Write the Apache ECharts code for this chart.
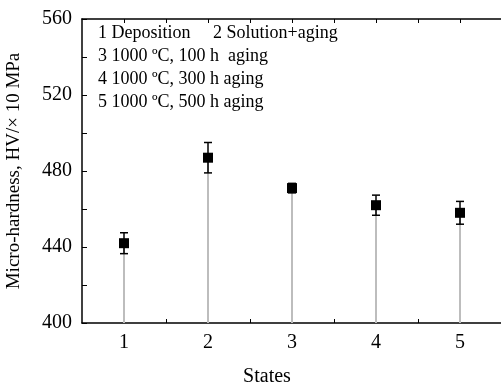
<!DOCTYPE html>
<html>
<head>
<meta charset="utf-8">
<script src="https://cdn.jsdelivr.net/npm/echarts@6/dist/echarts.min.js"></script>
<style>
  html, body { margin: 0; padding: 0; background: #fff; }
  #chart { width: 501px; height: 387px; }
</style>
</head>
<body>
<div id="chart"></div>
<script>
// micro-hardness per state
const states = [1, 2, 3, 4, 5];
const hardness = [442, 487, 471, 462, 458];
const errors = [5.5, 8, 2.5, 5.3, 6];
const yTicks = [400, 440, 480, 520, 560];
const notes = [
  '1 Deposition     2 Solution+aging',
  '3 1000 \u00baC, 100 h  aging',
  '4 1000 \u00baC, 300 h aging',
  '5 1000 \u00baC, 500 h aging'
];

const font = 'Liberation Serif';
const points = states.map((s, i) => [s, hardness[i], errors[i]]);

const xCommon = {
  type: 'value',
  min: 0.5,
  max: 5.5,
  axisLine: { show: true, lineStyle: { color: '#000', width: 1.5 } },
  axisTick: { show: true, inside: true, length: 4, lineStyle: { color: '#000' },
    customValues: [1, 1.5, 2, 2.5, 3, 3.5, 4, 4.5, 5] },
  splitLine: { show: false }
};

const option = {
  animation: false,
  textStyle: { fontFamily: font },
  title: {
    left: 93, top: 17,
    text: notes.join('\n'),
    textStyle: { fontFamily: font, fontSize: 18, fontWeight: 'normal', color: '#000', lineHeight: 23 }
  },
  grid: { left: 82, right: -1, top: 19, bottom: 64, outerBoundsMode: 'none', containLabel: false },
  xAxis: [
    Object.assign({}, xCommon, {
      position: 'bottom',
      name: 'States',
      nameLocation: 'middle',
      nameGap: 44,
      nameTextStyle: { fontFamily: font, fontSize: 20, color: '#000', padding: [0, 50, 0, 0] },
      axisLabel: { customValues: states, fontFamily: font, fontSize: 20, color: '#000', margin: 10 }
    }),
    Object.assign({}, xCommon, {
      position: 'top',
      axisLabel: { show: false }
    })
  ],
  yAxis: {
    type: 'value',
    min: 400,
    max: 560,
    interval: 40,
    name: 'Micro-hardness, HV/\u00d7 10 MPa',
    nameLocation: 'middle',
    nameGap: 58,
    nameTextStyle: { fontFamily: font, fontSize: 19, color: '#000' },
    axisLine: { show: true, lineStyle: { color: '#000', width: 1.5 } },
    axisTick: { show: true, inside: true, length: 5, lineStyle: { color: '#000' } },
    minorTick: { show: true, splitNumber: 2, length: 5, lineStyle: { color: '#000' } },
    axisLabel: { fontFamily: font, fontSize: 20, color: '#000', margin: 10,
      customValues: yTicks },
    splitLine: { show: false }
  },
  series: [
    {
      // drop lines + error bars
      type: 'custom',
      data: points,
      z: 2,
      renderItem: function (params, api) {
        const x = api.value(0), y = api.value(1), e = api.value(2);
        const base = api.coord([x, 400]);
        const top = api.coord([x, y]);
        const hi = api.coord([x, y + e]);
        const lo = api.coord([x, y - e]);
        const cap = 4;
        return {
          type: 'group',
          children: [
            { type: 'line', shape: { x1: base[0], y1: base[1], x2: top[0], y2: top[1] },
              style: { stroke: '#bdbdbd', lineWidth: 2 } },
            { type: 'line', shape: { x1: hi[0], y1: hi[1], x2: lo[0], y2: lo[1] },
              style: { stroke: '#000', lineWidth: 1.5 } },
            { type: 'line', shape: { x1: hi[0] - cap, y1: hi[1], x2: hi[0] + cap, y2: hi[1] },
              style: { stroke: '#000', lineWidth: 1.5 } },
            { type: 'line', shape: { x1: lo[0] - cap, y1: lo[1], x2: lo[0] + cap, y2: lo[1] },
              style: { stroke: '#000', lineWidth: 1.5 } }
          ]
        };
      }
    },
    {
      type: 'scatter',
      data: points,
      symbol: 'rect',
      symbolSize: 10,
      z: 3,
      itemStyle: { color: '#000', opacity: 1 }
    }
  ]
};

const myChart = echarts.init(document.getElementById('chart'));
myChart.setOption(option);
</script>
</body>
</html>
